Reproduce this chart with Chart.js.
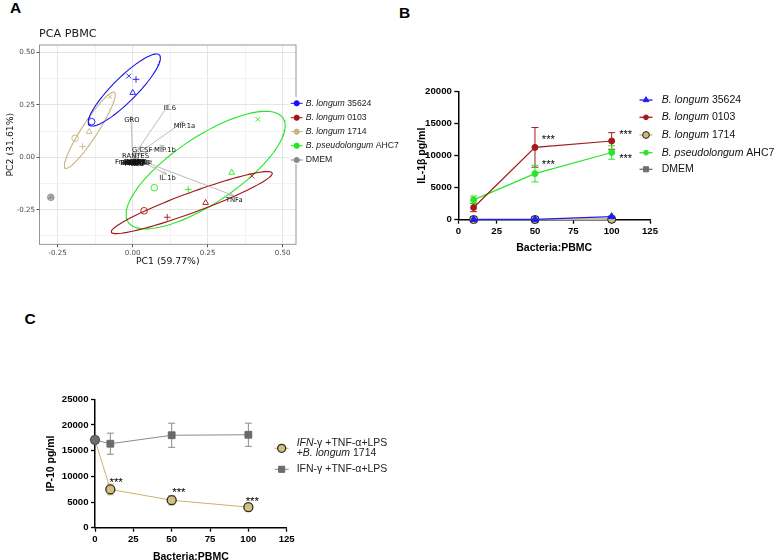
<!DOCTYPE html>
<html>
<head>
<meta charset="utf-8">
<script src="https://cdn.jsdelivr.net/npm/chart.js@4.4.1/dist/chart.umd.min.js"></script>
<style>
html, body { margin: 0; padding: 0; background: #fff; width: 776px; height: 560px; overflow: hidden; position: relative; }
canvas { position: absolute; }
.tag { position: absolute; font: bold 15.5px "Liberation Sans", Arial, sans-serif; line-height: 16px; color: #000; }
</style>
</head>
<body>
<div class="tag" style="left:10px;top:-0.5px">A</div>
<div class="tag" style="left:399px;top:4.6px">B</div>
<div class="tag" style="left:24.5px;top:311.3px">C</div>
<canvas id="pca" width="400" height="275" style="left:0;top:0"></canvas>
<canvas id="il1b" width="396" height="290" style="left:380px;top:0"></canvas>
<canvas id="ip10" width="400" height="280" style="left:0;top:290px"></canvas>
<script>
Chart.defaults.font.family = '"Liberation Sans", Arial, Helvetica, sans-serif';
Chart.defaults.color = '#000';
var FAMILY = Chart.defaults.font.family;
var GG_FAMILY = '"DejaVu Sans", Verdana, sans-serif';

// ---------- A: PCA PBMC ----------
var replicateShapes = ['crossRot', 'cross', 'triangle', 'circle'];
var pc1_35624 = [-0.013, 0.011, 0.000, -0.137];
var pc2_35624 = [0.388, 0.372, 0.308, 0.170];
var pc1_0103 = [0.397, 0.115, 0.243, 0.038];
var pc2_0103 = [-0.089, -0.286, -0.217, -0.255];
var pc1_1714 = [-0.076, -0.167, -0.145, -0.192];
var pc2_1714 = [0.289, 0.051, 0.122, 0.091];
var pc1_AHC7 = [0.417, 0.185, 0.330, 0.072];
var pc2_AHC7 = [0.181, -0.153, -0.073, -0.145];
var pc1_DMEM = [-0.273, -0.273, -0.273, -0.273];
var pc2_DMEM = [-0.191, -0.191, -0.191, -0.191];

// ellipses: 35624, 0103, 1714, AHC7 (center, major and minor half axes)
var ellipseCenterX = [-0.028, 0.197, -0.143, 0.243];
var ellipseCenterY = [0.321, -0.216, 0.129, -0.061];
var ellipseMajorX = [0.117, 0.268, 0.082, 0.258];
var ellipseMajorY = [0.167, 0.141, 0.181, 0.248];
var ellipseMinorX = [0.028, 0.011, 0.022, 0.061];
var ellipseMinorY = [-0.041, -0.045, -0.021, -0.131];

var loadingNames = ['IL.6', 'MIP.1a', 'GRO', 'MIP.1b', 'G.CSF', 'RANTES', 'IL.1b', 'TNFa'];
var loadingPC1 = [0.121, 0.169, -0.006, 0.104, 0.028, 0.006, 0.113, 0.335];
var loadingPC2 = [0.254, 0.170, 0.197, 0.056, 0.054, 0.028, -0.080, -0.182];
var smallLoadingNames = ['Fractalkine', 'IL.10', 'IL.12p70', 'IL.13', 'IL.2', 'IL.4', 'IL.5', 'IL.8', 'IFNg', 'IP.10', 'MCP.1', 'MDC', 'VEGF', 'Eotaxin', 'IL.17A', 'FGF.2'];
var smallLoadingPC1 = [0.003, 0.000, 0.008, 0.012, 0.015, -0.006, 0.004, 0.018, -0.004, 0.010, 0.006, 0.020, -0.002, 0.001, 0.009, 0.014];
var smallLoadingPC2 = [-0.003, -0.002, -0.006, -0.004, -0.010, -0.005, -0.008, -0.002, -0.001, -0.007, -0.011, -0.004, -0.009, -0.006, -0.003, -0.008];

var pcaColors = ['#1414f0', '#a51515', '#c6b684', '#22e622', '#8a8a8a'];

function pts(xs, ys) {
    var out = [];
    for (var i = 0; i < xs.length; i++) out.push({ x: xs[i], y: ys[i] });
    return out;
}

function ellipsePoints(g) {
    var out = [];
    for (var k = 0; k <= 96; k++) {
        var t = k / 96 * 2 * Math.PI;
        out.push({
            x: ellipseCenterX[g] + ellipseMajorX[g] * Math.cos(t) + ellipseMinorX[g] * Math.sin(t),
            y: ellipseCenterY[g] + ellipseMajorY[g] * Math.cos(t) + ellipseMinorY[g] * Math.sin(t)
        });
    }
    return out;
}

var pcaPoints = [
    pts(pc1_35624, pc2_35624), pts(pc1_0103, pc2_0103), pts(pc1_1714, pc2_1714),
    pts(pc1_AHC7, pc2_AHC7), pts(pc1_DMEM, pc2_DMEM)
];

var pcaDatasets = [];
for (let g = 0; g < 5; g++) {
    pcaDatasets.push({
        data: pcaPoints[g],
        pointStyle: replicateShapes,
        pointRadius: 3.3,
        pointBorderWidth: 0.9,
        borderColor: pcaColors[g],
        pointBorderColor: pcaColors[g],
        pointBackgroundColor: 'rgba(0,0,0,0)',
        showLine: false
    });
}
for (let g = 0; g < 4; g++) {
    pcaDatasets.push({
        data: ellipsePoints(g),
        showLine: true,
        borderColor: pcaColors[g],
        borderWidth: 1.1,
        pointRadius: 0,
        fill: false
    });
}

function isMajor(v) {
    return Math.abs(v / 0.25 - Math.round(v / 0.25)) < 1e-6;
}

var pcaDecor = {
    id: 'pcaDecor',
    afterDatasetsDraw: function (chart) {
        var ctx = chart.ctx, xs = chart.scales.x, ys = chart.scales.y;
        var ox = xs.getPixelForValue(0), oy = ys.getPixelForValue(0);
        ctx.save();
        ctx.strokeStyle = '#b4b4b4';
        ctx.lineWidth = 0.9;
        var all1 = loadingPC1.concat(smallLoadingPC1), all2 = loadingPC2.concat(smallLoadingPC2);
        for (let i = 0; i < all1.length; i++) {
            var tx = xs.getPixelForValue(all1[i]), ty = ys.getPixelForValue(all2[i]);
            ctx.beginPath();
            ctx.moveTo(ox, oy);
            ctx.lineTo(tx, ty);
            var len = Math.hypot(tx - ox, ty - oy);
            if (len > 4) {
                var a = Math.atan2(ty - oy, tx - ox);
                ctx.moveTo(tx - 4.5 * Math.cos(a - 0.45), ty - 4.5 * Math.sin(a - 0.45));
                ctx.lineTo(tx, ty);
                ctx.lineTo(tx - 4.5 * Math.cos(a + 0.45), ty - 4.5 * Math.sin(a + 0.45));
            }
            ctx.stroke();
        }
        ctx.fillStyle = '#111';
        ctx.textAlign = 'center';
        ctx.textBaseline = 'middle';
        ctx.font = '6.8px ' + GG_FAMILY;
        for (let i = 0; i < smallLoadingNames.length; i++) {
            ctx.fillText(smallLoadingNames[i], xs.getPixelForValue(smallLoadingPC1[i]), ys.getPixelForValue(smallLoadingPC2[i]) + 4.5);
        }
        for (let i = 0; i < loadingNames.length; i++) {
            ctx.fillText(loadingNames[i], xs.getPixelForValue(loadingPC1[i]) + 1, ys.getPixelForValue(loadingPC2[i]) + 4.5);
        }
        var ca = chart.chartArea;
        ctx.strokeStyle = '#8c8c8c';
        ctx.lineWidth = 0.9;
        ctx.strokeRect(ca.left, ca.top, ca.right - ca.left, ca.bottom - ca.top);
        ctx.textAlign = 'left';
        ctx.fillStyle = '#1a1a1a';
        ctx.font = '11.2px ' + GG_FAMILY;
        ctx.fillText('PCA PBMC', ca.left - 0.5, 34.5);
        ctx.restore();
    }
};

var sideLegend = {
    id: 'sideLegend',
    afterDraw: function (chart, args, o) {
        if (!o.items) return;
        var ctx = chart.ctx;
        ctx.save();
        if (o.box) {
            ctx.fillStyle = '#fff';
            ctx.fillRect(o.box[0], o.box[1], o.box[2], o.box[3]);
        }
        o.items.forEach(function (it) {
            ctx.strokeStyle = it.line;
            ctx.lineWidth = o.lineWidth;
            ctx.beginPath();
            ctx.moveTo(o.markerX - o.lineHalf, it.y);
            ctx.lineTo(o.markerX + o.lineHalf, it.y);
            ctx.stroke();
            ctx.fillStyle = it.fill;
            ctx.strokeStyle = it.stroke;
            ctx.lineWidth = it.borderWidth || 1;
            Chart.helpers.drawPoint(ctx, {
                pointStyle: it.style,
                radius: it.radius,
                rotation: 0,
                borderWidth: it.borderWidth || 1
            }, o.markerX, it.y);
            ctx.fillStyle = o.color;
            ctx.textBaseline = 'middle';
            ctx.textAlign = 'left';
            it.rows.forEach(function (row, k) {
                var x = o.textX;
                var ty = it.y + (k - (it.rows.length - 1) / 2) * (o.rowGap || 0);
                row.forEach(function (part) {
                    ctx.font = (part[1] ? 'italic ' : '') + o.size + 'px ' + FAMILY;
                    ctx.fillText(part[0], x, ty);
                    x += ctx.measureText(part[0]).width;
                });
            });
        });
        ctx.restore();
    }
};

function pcaKey(g, y, rows) {
    return { y: y, line: pcaColors[g], fill: pcaColors[g], stroke: pcaColors[g], style: 'circle', radius: 2.6, rows: rows };
}

var ggTicks = {
    stepSize: 0.125, includeBounds: false, autoSkip: false, maxRotation: 0,
    color: '#4d4d4d', font: { size: 7.1, family: GG_FAMILY }, padding: 1.5,
    callback: function (v) { return isMajor(v) ? v.toFixed(2) : ''; }
};
var ggGrid = {
    color: function (c) { return isMajor(c.tick.value) ? '#e2e2e2' : '#f0f0f0'; },
    lineWidth: 0.9, tickLength: 3,
    tickColor: function (c) { return isMajor(c.tick.value) ? '#444' : 'rgba(0,0,0,0)'; }
};

new Chart(document.getElementById('pca'), {
    type: 'scatter',
    data: { datasets: pcaDatasets },
    options: {
        responsive: false,
        animation: false,
        events: [],
        layout: { padding: { left: 0, right: 104, top: 45, bottom: 0 } },
        plugins: {
            legend: { display: false },
            tooltip: { enabled: false },
            sideLegend: {
                box: [289, 97, 111, 67],
                markerX: 296.7, lineHalf: 6, lineWidth: 1, textX: 305.7, size: 8.7, color: '#1a1a1a',
                items: [
                    pcaKey(0, 103.3, [[['B. longum', true], [' 35624', false]]]),
                    pcaKey(1, 117.7, [[['B. longum', true], [' 0103', false]]]),
                    pcaKey(2, 131.7, [[['B. longum', true], [' 1714', false]]]),
                    pcaKey(3, 145.7, [[['B. pseudolongum', true], [' AHC7', false]]]),
                    pcaKey(4, 160, [[['DMEM', false]]])
                ]
            }
        },
        scales: {
            x: {
                type: 'linear', min: -0.3107, max: 0.5443,
                afterFit: function (s) { s.height = 30.7; },
                ticks: ggTicks,
                grid: ggGrid,
                border: { display: false },
                title: { display: true, text: 'PC1 (59.77%)', color: '#111', font: { size: 9.3, family: GG_FAMILY }, padding: { top: 0, bottom: 7.4 } }
            },
            y: {
                type: 'linear', min: -0.415, max: 0.5358,
                afterFit: function (s) { s.width = 39.5; },
                ticks: ggTicks,
                grid: ggGrid,
                border: { display: false },
                title: { display: true, text: 'PC2 (31.61%)', color: '#111', font: { size: 9.3, family: GG_FAMILY }, padding: { top: 4.8, bottom: 0 } }
            }
        }
    },
    plugins: [pcaDecor, sideLegend]
});

// ---------- B and C: GraphPad style line charts ----------
var ratioB = [10, 50, 100];
var il1b_35624 = [50, 50, 480];
var il1b_0103 = [1900, 11300, 12300];
var il1b_0103_sd = [650, 3100, 1300];
var il1b_1714 = [30, 30, 60];
var il1b_AHC7 = [3100, 7200, 10500];
var il1b_AHC7_sd = [600, 1300, 1050];
var il1b_DMEM = [20, 20, 100];

var ratioC = [0, 10, 50, 100];
var ip10_1714 = [17100, 7450, 5350, 4000];
var ip10_1714_sd = [0, 1050, 900, 750];
var ip10_ctrl = [17100, 16350, 18000, 18100];
var ip10_ctrl_sd = [0, 2050, 2350, 2250];

var errorBars = {
    id: 'errorBars',
    beforeDatasetsDraw: function (chart) {
        var ctx = chart.ctx, xs = chart.scales.x, ys = chart.scales.y;
        chart.data.datasets.forEach(function (ds) {
            if (!ds.errors) return;
            ctx.save();
            ctx.strokeStyle = ds.borderColor;
            ctx.lineWidth = 1;
            ds.data.forEach(function (p, i) {
                var e = ds.errors[i];
                if (!e) return;
                var x = xs.getPixelForValue(p.x);
                var y1 = ys.getPixelForValue(p.y + e), y2 = ys.getPixelForValue(p.y - e);
                ctx.beginPath();
                ctx.moveTo(x, y1); ctx.lineTo(x, y2);
                ctx.moveTo(x - 3.5, y1); ctx.lineTo(x + 3.5, y1);
                ctx.moveTo(x - 3.5, y2); ctx.lineTo(x + 3.5, y2);
                ctx.stroke();
            });
            ctx.restore();
        });
    }
};

var stars = {
    id: 'stars',
    afterDatasetsDraw: function (chart, args, o) {
        if (!o.marks) return;
        var ctx = chart.ctx, xs = chart.scales.x, ys = chart.scales.y;
        ctx.save();
        ctx.fillStyle = '#000';
        ctx.font = o.size + 'px ' + FAMILY;
        ctx.textAlign = 'center';
        ctx.textBaseline = 'middle';
        o.marks.forEach(function (m) {
            var p = chart.data.datasets[m.ds].data[m.i];
            ctx.fillText('***', xs.getPixelForValue(p.x) + m.dx, ys.getPixelForValue(p.y) + m.dy + o.size * 0.22);
        });
        ctx.restore();
    }
};

function gpAxes(yMax, yStep, yTitle, yWidth, yTitlePad, xTitlePad) {
    var tickFont = { size: 9.6, weight: 'bold' };
    var titleFont = { size: 10.5, weight: 'bold' };
    return {
        x: {
            type: 'linear', min: 0, max: 125,
            afterFit: function (s) { s.height = 40; },
            ticks: { stepSize: 25, font: tickFont, color: '#000', padding: 2, maxRotation: 0, autoSkip: false },
            grid: { drawOnChartArea: false, tickLength: 4, tickColor: '#000', tickWidth: 1.3 },
            border: { color: '#000', width: 1.5 },
            title: { display: true, text: 'Bacteria:PBMC', font: titleFont, color: '#000', padding: { top: 0, bottom: xTitlePad } }
        },
        y: {
            type: 'linear', min: 0, max: yMax,
            afterFit: function (s) { s.width = yWidth; },
            ticks: { stepSize: yStep, font: tickFont, color: '#000', padding: 2.5, callback: function (v) { return String(v); } },
            grid: { drawOnChartArea: false, tickLength: 4, tickColor: '#000', tickWidth: 1.3 },
            border: { color: '#000', width: 1.5 },
            title: { display: true, text: yTitle, font: titleFont, color: '#000', padding: { top: yTitlePad, bottom: 0 } }
        }
    };
}

function series(xs, ys, sd, color, style, radius, fill, border) {
    return {
        data: pts(xs, ys),
        errors: sd,
        borderColor: color,
        borderWidth: 1.2,
        pointStyle: style,
        pointRadius: radius,
        pointBackgroundColor: fill || color,
        pointBorderColor: border || color,
        pointBorderWidth: 1,
        clip: false,
        tension: 0
    };
}

var bBlue = '#1c1cf5', bRed = '#a3191c', bTan = '#cdb978', bGreen = '#2ae42a', bGray = '#6f6f6f';

function gpKey(y, color, style, radius, fill, stroke, rows) {
    return { y: y, line: color, fill: fill || color, stroke: stroke || color, style: style, radius: radius, rows: rows };
}

new Chart(document.getElementById('il1b'), {
    type: 'line',
    data: {
        datasets: [
            series(ratioB, il1b_35624, null, bBlue, 'triangle', 4),
            series(ratioB, il1b_0103, il1b_0103_sd, bRed, 'circle', 3),
            series(ratioB, il1b_1714, null, bTan, 'circle', 4, bTan, '#222'),
            series(ratioB, il1b_AHC7, il1b_AHC7_sd, bGreen, 'circle', 3),
            series(ratioB, il1b_DMEM, null, bGray, 'rect', 4.5)
        ]
    },
    options: {
        responsive: false, animation: false, events: [],
        layout: { padding: { left: 28.3, right: 126, top: 91.7, bottom: 30.3 } },
        plugins: {
            legend: { display: false },
            tooltip: { enabled: false },
            stars: {
                size: 11,
                marks: [
                    { ds: 1, i: 1, dx: 13.3, dy: -9.5 },
                    { ds: 3, i: 1, dx: 13.3, dy: -11.3 },
                    { ds: 1, i: 2, dx: 14, dy: -8.2 },
                    { ds: 3, i: 2, dx: 14, dy: 3.8 }
                ]
            },
            sideLegend: {
                markerX: 266, lineHalf: 6.5, lineWidth: 1.3, textX: 281.7, size: 10.5, color: '#111',
                items: [
                    gpKey(100, bBlue, 'triangle', 3.3, null, null, [[['B. longum', true], [' 35624', false]]]),
                    gpKey(117.3, bRed, 'circle', 2.4, null, null, [[['B. longum', true], [' 0103', false]]]),
                    gpKey(135, bTan, 'circle', 3.4, bTan, '#222', [[['B. longum', true], [' 1714', false]]]),
                    gpKey(152.7, bGreen, 'circle', 2.4, null, null, [[['B. pseudolongum', true], [' AHC7', false]]]),
                    gpKey(169.3, bGray, 'rect', 3.6, null, null, [[['DMEM', false]]])
                ]
            }
        },
        scales: gpAxes(20000, 5000, 'IL-1β pg/ml', 50, 7.1, 5.4)
    },
    plugins: [errorBars, stars, sideLegend]
});

var cTan = '#c9b46a', cTanFill = '#d2c07c', cGray = '#6a6a6a';
var tanSeries = series(ratioC, ip10_1714, ip10_1714_sd, cTan, 'circle', 4.5, ['#6e6e6e', cTanFill, cTanFill, cTanFill], ['#555', '#2a2a2a', '#2a2a2a', '#2a2a2a']);
tanSeries.borderWidth = 1;
tanSeries.pointBorderWidth = 1.3;
var ctrlSeries = series(ratioC, ip10_ctrl, ip10_ctrl_sd, '#8a8a8a', 'rect', 4.8, cGray, cGray);
ctrlSeries.borderWidth = 1;

new Chart(document.getElementById('ip10'), {
    type: 'line',
    data: { datasets: [tanSeries, ctrlSeries] },
    options: {
        responsive: false, animation: false, events: [],
        layout: { padding: { left: 30, right: 113.3, top: 109.3, bottom: 2.3 } },
        plugins: {
            legend: { display: false },
            tooltip: { enabled: false },
            stars: {
                size: 11.5,
                marks: [
                    { ds: 0, i: 1, dx: 5.8, dy: -8.7 },
                    { ds: 0, i: 2, dx: 7.2, dy: -9.8 },
                    { ds: 0, i: 3, dx: 4, dy: -8.2 }
                ]
            },
            sideLegend: {
                markerX: 281.7, lineHalf: 7, lineWidth: 1, textX: 296.7, size: 10.5, color: '#222', rowGap: 10,
                items: [
                    { y: 158.3, line: cTan, fill: cTanFill, stroke: '#2a2a2a', borderWidth: 1.3, style: 'circle', radius: 4,
                      rows: [[['IFN', true], ['-γ +TNF-α+LPS', false]], [['+', false], ['B. longum', true], [' 1714', false]]] },
                    gpKey(179.3, '#8a8a8a', 'rect', 4.3, cGray, cGray, [[['IFN-γ +TNF-α+LPS', false]]])
                ]
            }
        },
        scales: gpAxes(25000, 5000, 'IP-10 pg/ml', 65, 14.7, 4.7)
    },
    plugins: [errorBars, stars, sideLegend]
});
</script>
</body>
</html>
